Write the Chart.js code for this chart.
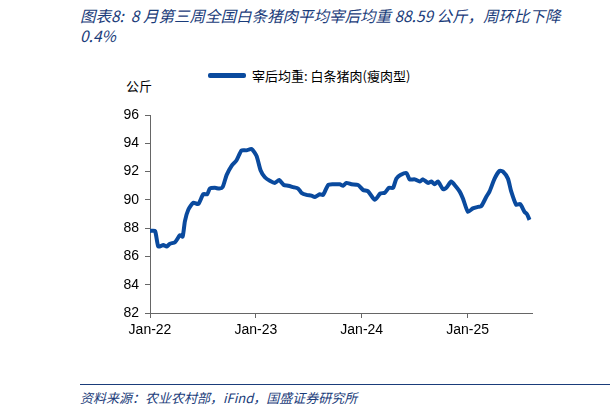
<!DOCTYPE html><html><head><meta charset="utf-8">
<script src="https://cdn.jsdelivr.net/npm/chart.js@4"></script>
<style>
body{margin:0;width:612px;height:416px;position:relative;background:#fff;font-family:"Noto Sans CJK SC","DejaVu Sans",sans-serif;overflow:hidden}
#t{position:absolute;left:80px;top:5px;width:500px;font-size:15.5px;line-height:20px;font-style:italic;color:#1a3c7a}
#src{position:absolute;left:80px;top:384px;width:530px;border-top:1.5px solid #1a3c7a;font-size:13px;padding-top:3px;font-style:italic;color:#1a3c7a}
#u{position:absolute;left:126px;top:76px;font-size:13px;color:#000}
#lg{position:absolute;left:208px;top:66px;font-size:13px;color:#000;display:flex;align-items:center}
#lg span{display:inline-block;width:38px;height:5px;background:#0a4a9e;margin-right:6px;border-radius:2px}
canvas{position:absolute;left:0;top:0}
</style></head><body>
<div id="t">图表8:&nbsp; 8 月第三周全国白条猪肉平均宰后均重 88.59 公斤，周环比下降 0.4%</div>
<div id="u">公斤</div>
<div id="lg"><span></span>宰后均重: 白条猪肉(瘦肉型)</div>
<div id="src">资料来源：农业农村部，iFind，国盛证券研究所</div>
<canvas id="c" width="612" height="416"></canvas>
<script>
const months=[0,0.57,0.94,1.51,1.89,2.26,2.83,3.40,3.70,3.96,4.34,4.91,5.47,6.04,6.49,6.79,7.36,7.85,8.23,8.68,9.25,9.81,10.38,10.94,11.51,12.08,12.53,13.02,13.58,14.15,14.64,15.17,15.66,16.23,16.79,17.17,17.74,18.30,18.68,19.25,19.62,20.19,20.75,21.51,21.89,22.26,22.83,23.58,24.15,24.72,25.47,26.11,26.60,27.09,27.55,27.92,28.38,29.06,29.43,30.0,30.57,30.94,31.51,31.89,32.26,32.64,33.21,33.58,34.15,34.53,35.09,35.47,36.04,36.60,37.17,37.55,38.11,38.49,39.06,39.62,40.0,40.57,40.94,41.51,41.96,42.45,42.72,43.02];
const weights=[87.8,87.8,86.7,86.8,86.7,86.9,87.0,87.5,87.4,88.5,89.3,89.8,89.7,90.4,90.4,90.8,90.85,90.8,90.9,91.75,92.4,92.8,93.5,93.5,93.6,93.1,92.1,91.6,91.35,91.2,91.4,91.05,91.0,90.9,90.8,90.5,90.35,90.3,90.2,90.4,90.35,91.05,91.1,91.1,91.0,91.2,91.1,91.05,90.7,90.6,90.0,90.45,90.5,90.85,90.85,91.5,91.75,91.9,91.45,91.45,91.3,91.45,91.2,91.3,91.1,91.3,90.75,90.85,91.3,91.05,90.6,90.1,89.15,89.4,89.5,89.55,90.2,90.6,91.5,92.05,92.0,91.5,90.6,89.65,89.7,89.15,89.0,88.59];
const xTicks={0:'Jan-22',12:'Jan-23',24:'Jan-24',36:'Jan-25'};
const yTicks=[82,84,86,88,90,92,94,96];
new Chart(document.getElementById('c'),{type:'line',
data:{datasets:[{data:months.map((m,i)=>({x:m,y:weights[i]})),borderColor:'#0a4a9e',borderWidth:4,pointRadius:0,tension:0.2}]},
options:{responsive:false,animation:false,layout:{padding:{left:100,right:80,top:115,bottom:73}},
plugins:{legend:{display:false},tooltip:{enabled:false}},
scales:{
x:{type:'linear',min:0,max:43.3,afterFit:s=>{s.height=30},afterBuildTicks:s=>{s.ticks=[0,12,24,36].map(v=>({value:v}))},
 grid:{display:true,drawOnChartArea:false,drawTicks:true,tickLength:5,color:'#666'},border:{color:'#666',width:1},
 ticks:{callback:v=>xTicks[v]||'',color:'#000',font:{size:14,family:'Liberation Sans'},maxRotation:0,padding:4}},
y:{min:82,max:96,afterFit:s=>{s.width=50},afterBuildTicks:s=>{s.ticks=yTicks.map(v=>({value:v}))},
 grid:{drawOnChartArea:false,tickLength:5,color:'#666'},border:{color:'#666',width:1},
 ticks:{color:'#000',font:{size:14,family:'Liberation Sans'},padding:6}}}}});
</script></body></html>
